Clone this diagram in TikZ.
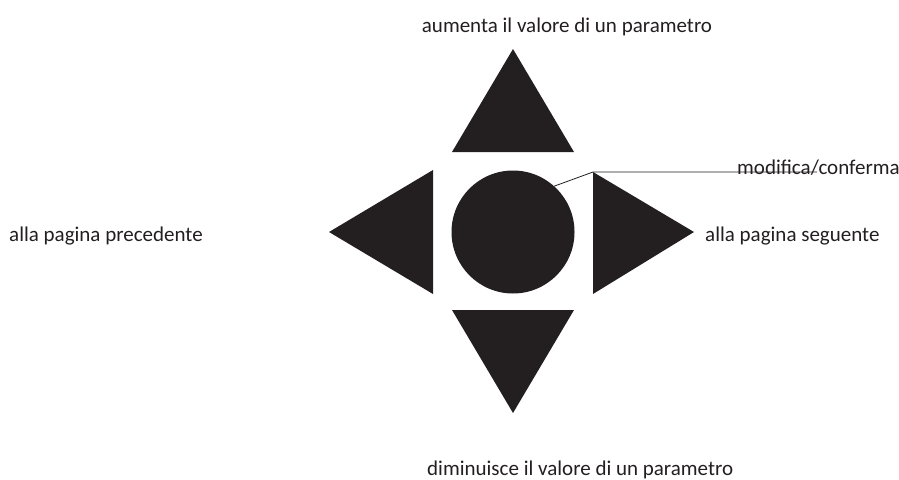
\documentclass[tikz,border=0pt]{standalone}
\usepackage{fontspec}
\setmainfont{Carlito}
\usepackage{tikz}
\definecolor{keyblack}{HTML}{231F20}

\begin{document}
\begin{tikzpicture}[
        x=1pt, y=-1pt,
        every node/.style={font=\fontsize{21}{25}\selectfont, text=keyblack, inner sep=0pt},
        label_txt/.style={anchor=base west},
        key_fill/.style={fill=keyblack},
        ok_key/.style={circle, fill=keyblack, minimum size=123pt},
        leader/.style={draw=keyblack, line width=0.8pt}
    ]
    \useasboundingbox (0,0) rectangle (899,479);
    % tasti
    \node[ok_key] (ok) at (513,232) {};
    \fill[key_fill] (452,152) -- (513,49) -- (574,152) -- cycle;
    \fill[key_fill] (452,310) -- (513,413) -- (574,310) -- cycle;
    \fill[key_fill] (433,170) -- (329,232) -- (433,294) -- cycle;
    \fill[key_fill] (593,172) -- (694,232) -- (593,294) -- cycle;
    % testi
    \node[anchor=base] (up_txt) at (567,32) {aumenta il valore di un parametro};
    \node[label_txt] (down_txt) at (427,475) {diminuisce il valore di un parametro};
    \node[label_txt] (left_txt) at (9,241) {alla pagina precedente};
    \node[label_txt] (right_txt) at (705,241) {alla pagina seguente};
    \node[label_txt] (conf_txt) at (737,174.5) {modifica/conferma};
    % linea di richiamo
    \coordinate (corner) at (593,172);
    \coordinate (line_end) at (817,172);
    \draw[leader] (ok.48) -- (corner) -- (line_end);
\end{tikzpicture}
\end{document}
